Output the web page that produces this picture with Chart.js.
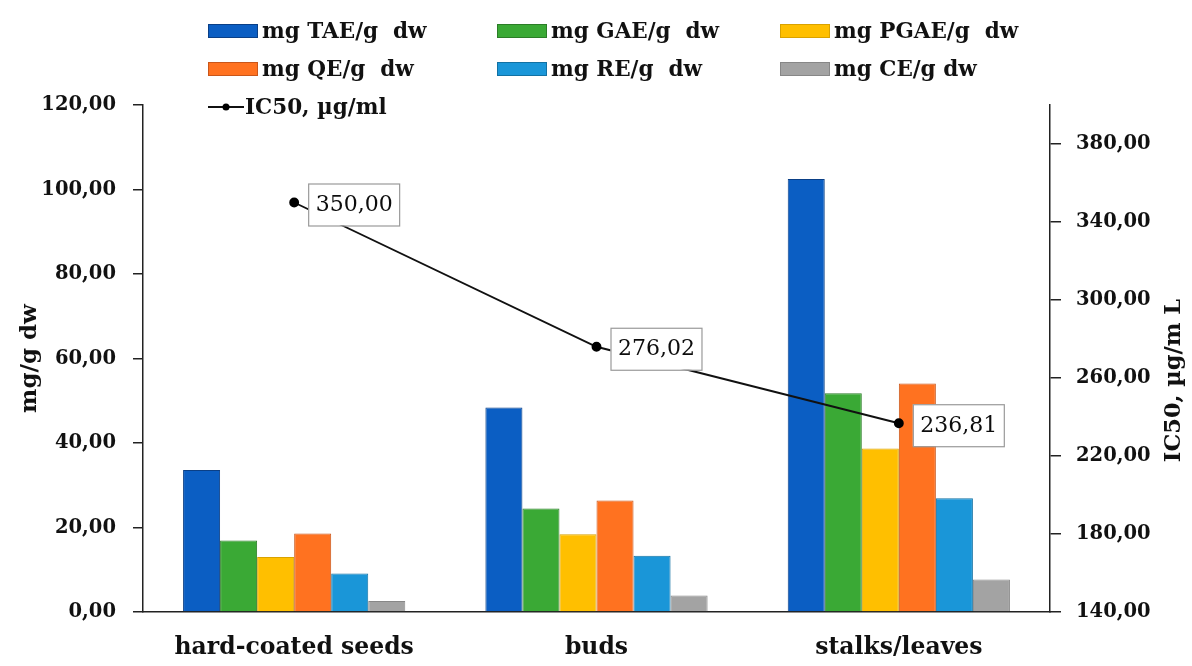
<!DOCTYPE html>
<html>
<head>
<meta charset="utf-8">
<script src="https://cdn.jsdelivr.net/npm/chart.js@4"></script>
<style>
  html, body { margin: 0; padding: 0; background: #ffffff; }
  #wrap { width: 1192px; height: 666px; }
</style>
</head>
<body>
<div id="wrap"><canvas id="chart" width="1192" height="666"></canvas></div>
<script>
// Plant parts analysed
const categories = ['hard-coated seeds', 'buds', 'stalks/leaves'];

// Content values, mg per g dry weight
const seriesNames = ['mg TAE/g  dw', 'mg GAE/g  dw', 'mg PGAE/g  dw', 'mg QE/g  dw', 'mg RE/g  dw', 'mg CE/g dw'];
const tae  = [33.6, 48.4, 102.5];
const gae  = [16.9, 24.5, 51.8];
const pgae = [13.0, 18.4, 38.7];
const qe   = [18.6, 26.4, 54.1];
const re   = [9.1, 13.3, 26.9];
const ce   = [2.6, 3.9, 7.7];

// Antioxidant activity, IC50 in µg/ml
const ic50Name = 'IC50, µg/ml';
const ic50 = [350.00, 276.02, 236.81];

// Axis tick values
const leftTicks  = [0, 20, 40, 60, 80, 100, 120];
const rightTicks = [140, 180, 220, 260, 300, 340, 380];

const barFill   = ['#0b5ec3', '#3aa935', '#ffbf00', '#ff7220', '#1a96d8', '#a3a3a3'];
const barStroke = ['#0a3f86', '#2b7d27', '#d9a200', '#c9561a', '#1271a3', '#878787'];
const barData = [tae, gae, pgae, qe, re, ce];

const SERIF = '"DejaVu Serif", "Liberation Serif", serif';
const fmt = v => Number(v).toFixed(2).replace('.', ',');

const datasets = [{
  type: 'line',
  label: ic50Name,
  data: ic50,
  yAxisID: 'y1',
  borderColor: '#111111',
  borderWidth: 1.9,
  pointRadius: 4,
  pointBackgroundColor: '#000000',
  pointBorderColor: '#000000',
  tension: 0,
  order: 0
}];
barData.forEach((arr, i) => {
  datasets.push({
    type: 'bar',
    label: seriesNames[i],
    data: arr,
    yAxisID: 'y',
    backgroundColor: barFill[i],
    borderColor: barStroke[i],
    borderWidth: 1,
    barPercentage: 1,
    categoryPercentage: 0.735,
    order: 1
  });
});

// Legend laid out in a fixed 3-column grid above the plot
const legendGrid = {
  id: 'legendGrid',
  afterDraw(chart) {
    const ctx = chart.ctx;
    const cols = [208, 497, 780];
    const rows = [31, 69, 107];
    const bars = chart.data.datasets.filter(d => d.type === 'bar');
    const line = chart.data.datasets.find(d => d.type === 'line');
    ctx.save();
    ctx.font = 'bold 21.5px ' + SERIF;
    ctx.textBaseline = 'middle';
    ctx.fillStyle = '#111';
    bars.forEach((d, i) => {
      const x = cols[i % 3], y = rows[Math.floor(i / 3)];
      ctx.fillStyle = d.backgroundColor;
      ctx.fillRect(x, y - 7, 50, 14);
      ctx.strokeStyle = d.borderColor;
      ctx.lineWidth = 1;
      ctx.strokeRect(x + 0.5, y - 6.5, 49, 13);
      ctx.fillStyle = '#111';
      ctx.fillText(d.label, x + 54, y + 1);
    });
    const lx = cols[0], ly = rows[2];
    ctx.strokeStyle = line.borderColor;
    ctx.lineWidth = 1.8;
    ctx.beginPath();
    ctx.moveTo(lx, ly);
    ctx.lineTo(lx + 36, ly);
    ctx.stroke();
    ctx.beginPath();
    ctx.arc(lx + 18, ly, 3.5, 0, Math.PI * 2);
    ctx.fillStyle = '#000';
    ctx.fill();
    ctx.fillStyle = '#111';
    ctx.fillText(line.label, lx + 37, ly + 1);
    ctx.restore();
  }
};

// Boxed value labels beside the IC50 points, plus the right-hand axis title
const ic50Labels = {
  id: 'ic50Labels',
  afterDatasetsDraw(chart) {
    const ctx = chart.ctx;
    const idx = chart.data.datasets.findIndex(d => d.type === 'line');
    const meta = chart.getDatasetMeta(idx);
    ctx.save();
    ctx.font = '22px ' + SERIF;
    ctx.textBaseline = 'middle';
    ctx.textAlign = 'center';
    meta.data.forEach((pt, i) => {
      const txt = fmt(chart.data.datasets[idx].data[i]);
      const w = ctx.measureText(txt).width + 14;
      const h = 42;
      const bx = pt.x + 14, by = pt.y - h / 2 + 2;
      ctx.fillStyle = '#ffffff';
      ctx.fillRect(bx, by, w, h);
      ctx.strokeStyle = '#9a9a9a';
      ctx.lineWidth = 1.2;
      ctx.strokeRect(bx + 0.5, by + 0.5, w, h);
      ctx.fillStyle = '#0d0d0d';
      ctx.fillText(txt, bx + w / 2 + 0.5, by + h / 2 + 1);
    });
    ctx.restore();
  },
  afterDraw(chart) {
    const ctx = chart.ctx;
    const a = chart.chartArea;
    ctx.save();
    ctx.translate(1174, (a.top + a.bottom) / 2 + 22);
    ctx.rotate(-Math.PI / 2);
    ctx.font = 'bold 22.5px ' + SERIF;
    ctx.fillStyle = '#111';
    ctx.textAlign = 'center';
    ctx.textBaseline = 'middle';
    ctx.fillText('IC50, µg/m L', 0, 0);
    ctx.restore();
  }
};

new Chart(document.getElementById('chart'), {
  data: { labels: categories, datasets },
  options: {
    responsive: false,
    devicePixelRatio: 1,
    animation: false,
    layout: { padding: { top: 105, left: 0, right: 0, bottom: 0 } },
    plugins: {
      legend: { display: false },
      tooltip: { enabled: false }
    },
    scales: {
      x: {
        grid: { display: false },
        border: { display: true, color: '#222', width: 1.5 },
        ticks: {
          color: '#111',
          font: { family: SERIF, size: 23.5, weight: 'bold' },
          padding: 14,
          maxRotation: 0
        },
        afterFit(scale) { scale.height = 54; }
      },
      y: {
        position: 'left',
        min: 0,
        max: 120,
        afterBuildTicks(scale) { scale.ticks = leftTicks.map(v => ({ value: v })); },
        grid: { drawOnChartArea: false, drawTicks: true, tickLength: 10, color: '#222', lineWidth: 1.5 },
        border: { display: true, color: '#222', width: 1.5 },
        ticks: {
          color: '#111',
          font: { family: SERIF, size: 19.5, weight: 'bold' },
          padding: 17,
          callback: v => fmt(v)
        },
        title: {
          display: true,
          text: 'mg/g dw',
          color: '#111',
          font: { family: SERIF, size: 23, weight: 'bold' },
          padding: { top: 16, bottom: 0 }
        },
        afterFit(scale) { scale.width = 143; }
      },
      y1: {
        position: 'right',
        min: 140,
        max: 400,
        afterBuildTicks(scale) { scale.ticks = rightTicks.map(v => ({ value: v })); },
        grid: { drawOnChartArea: false, drawTicks: true, tickLength: 11, color: '#222', lineWidth: 1.5 },
        border: { display: true, color: '#222', width: 1.5 },
        ticks: {
          color: '#111',
          font: { family: SERIF, size: 19.5, weight: 'bold' },
          padding: 15,
          callback: v => fmt(v)
        },
        afterFit(scale) { scale.width = 142; }
      }
    }
  },
  plugins: [legendGrid, ic50Labels]
});
</script>
</body>
</html>
